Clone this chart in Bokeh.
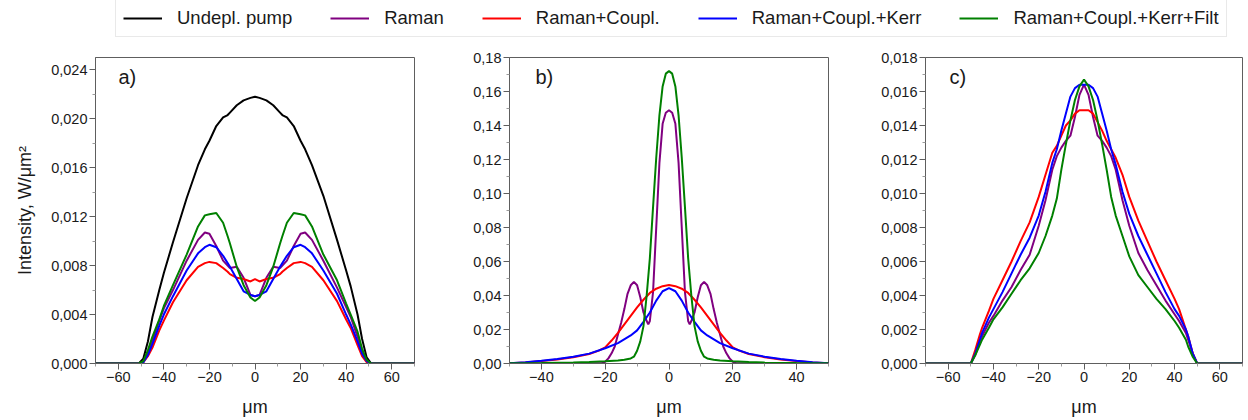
from bokeh.plotting import figure
from bokeh.layouts import column, row
from bokeh.models import Range1d, FixedTicker, CustomJSTickFormatter, Legend, LegendItem, Label
from bokeh.embed import file_html
from bokeh.resources import INLINE

FONT = "Liberation Sans"
SERIES = ["Undepl. pump", "Raman", "Raman+Coupl.", "Raman+Coupl.+Kerr", "Raman+Coupl.+Kerr+Filt"]
COLORS = ["#000000", "#800080", "#ff0000", "#0000ff", "#008000"]

# ---------------- panel a) ----------------
xa = [-70, -51, -49, -47, -45, -42, -40, -36, -30, -25, -22, -20, -17, -14, -12, -11, -8, -5, -2, 0,
      2, 5, 8, 11, 12, 14, 17, 20, 22, 25, 30, 36, 40, 42, 45, 47, 49, 51, 70]
a_pump = [0, 0, 0.0004, 0.0018, 0.0038, 0.0060, 0.0074, 0.0099, 0.0135, 0.0162, 0.0175, 0.0182, 0.0194,
          0.0201, 0.0203, 0.0205, 0.0211, 0.0215, 0.0217, 0.0218, 0.0217, 0.0215, 0.0211, 0.0205, 0.0203,
          0.0201, 0.0194, 0.0182, 0.0175, 0.0162, 0.0137, 0.0101, 0.0076, 0.0063, 0.0040, 0.0020, 0.0005, 0, 0]
a_raman = [0, 0, 0.0001, 0.0009, 0.0019, 0.0035, 0.0045, 0.0060, 0.0084, 0.0101, 0.0107, 0.0106, 0.0096,
           0.0084, 0.0080, 0.0078, 0.0079, 0.0070, 0.0056, 0.0055, 0.0056, 0.0070, 0.0079, 0.0078, 0.0080,
           0.0084, 0.0096, 0.0106, 0.0107, 0.0101, 0.0084, 0.0062, 0.0046, 0.0038, 0.0022, 0.0010, 0.0002, 0, 0]
a_coupl = [0, 0, 0.0001, 0.0006, 0.0013, 0.0027, 0.0035, 0.0050, 0.0068, 0.0079, 0.0082, 0.0083, 0.0082,
           0.0078, 0.0075, 0.0073, 0.0070, 0.0069, 0.0067, 0.0069, 0.0067, 0.0069, 0.0070, 0.0073, 0.0075,
           0.0078, 0.0082, 0.0083, 0.0082, 0.0079, 0.0068, 0.0051, 0.0036, 0.0029, 0.0015, 0.0006, 0.0001, 0, 0]
a_kerr = [0, 0, 0.0001, 0.0007, 0.0016, 0.0031, 0.0040, 0.0055, 0.0076, 0.0090, 0.0095, 0.0097, 0.0095,
          0.0088, 0.0082, 0.0079, 0.0069, 0.0059, 0.0056, 0.0055, 0.0056, 0.0059, 0.0069, 0.0079, 0.0082,
          0.0088, 0.0095, 0.0097, 0.0095, 0.0090, 0.0076, 0.0057, 0.0040, 0.0032, 0.0018, 0.0008, 0.0002, 0, 0]
a_filt = [0, 0, 0.0002, 0.0011, 0.0022, 0.0036, 0.0047, 0.0064, 0.0089, 0.0112, 0.0121, 0.0122, 0.0123,
          0.0115, 0.0104, 0.0098, 0.0079, 0.0064, 0.0054, 0.0051, 0.0054, 0.0064, 0.0079, 0.0098, 0.0104,
          0.0115, 0.0123, 0.0122, 0.0121, 0.0112, 0.0089, 0.0068, 0.0049, 0.0040, 0.0026, 0.0012, 0.0003, 0, 0]

# ---------------- panel b) ----------------
xb_kerr = [-50, -45, -40, -35, -30, -25, -20, -16, -12, -10, -8, -6, -4, -2, 0,
           2, 4, 6, 8, 10, 12, 16, 20, 25, 30, 35, 40, 45, 50]
b_kerr = [0.0002, 0.0007, 0.0016, 0.0026, 0.0040, 0.0058, 0.0090, 0.0120, 0.0165, 0.0195, 0.0245, 0.0300,
          0.0370, 0.0425, 0.0444, 0.0425, 0.0370, 0.0300, 0.0245, 0.0195, 0.0165, 0.0120, 0.0090, 0.0058,
          0.0040, 0.0026, 0.0016, 0.0007, 0.0002]
xb_coupl = [-50, -45, -40, -35, -30, -25, -22, -20, -18, -16, -12, -10, -8, -6, -4, -2, 0,
            2, 4, 6, 8, 10, 12, 16, 18, 20, 22, 25, 30, 35, 40, 45, 50]
b_coupl = [0.0002, 0.0006, 0.0014, 0.0024, 0.0037, 0.0056, 0.0076, 0.0095, 0.0135, 0.0180, 0.0280, 0.0330,
           0.0375, 0.0415, 0.0440, 0.0455, 0.0462, 0.0455, 0.0440, 0.0415, 0.0375, 0.0330, 0.0280, 0.0180,
           0.0135, 0.0095, 0.0076, 0.0056, 0.0037, 0.0024, 0.0014, 0.0006, 0.0002]
xb_raman = [-50, -25, -21, -20, -19, -18, -17, -16, -15, -14, -13, -12, -11, -10, -9, -8, -7, -6.5, -6, -5,
            -4, -3, -2, -1, 0, 1, 2, 3, 4, 5, 6, 6.5, 7, 8, 9, 10, 11, 12, 13, 14, 15, 16, 17, 18, 19,
            20, 21, 25, 50]
b_raman = [0, 0, 0.0003, 0.0010, 0.0030, 0.0060, 0.0100, 0.0170, 0.0240, 0.0320, 0.0410, 0.0460, 0.0480,
           0.0460, 0.0390, 0.0300, 0.0250, 0.0230, 0.0250, 0.0420, 0.0800, 0.1180, 0.1410, 0.1475, 0.1490,
           0.1475, 0.1410, 0.1180, 0.0800, 0.0420, 0.0250, 0.0230, 0.0250, 0.0300, 0.0390, 0.0460, 0.0480,
           0.0460, 0.0410, 0.0320, 0.0240, 0.0170, 0.0100, 0.0060, 0.0030, 0.0010, 0.0003, 0, 0]
xb_filt = [-50, -40, -30, -25, -20, -16, -14, -12, -11, -10, -9, -8, -7, -6, -5, -4, -3, -2, -1, 0,
           1, 2, 3, 4, 5, 6, 7, 8, 9, 10, 11, 12, 14, 16, 20, 25, 30, 40, 50]
b_filt = [0.0001, 0.0003, 0.0006, 0.0009, 0.0013, 0.0018, 0.0022, 0.0030, 0.0040, 0.0075, 0.0130, 0.0220,
          0.0400, 0.0620, 0.0920, 0.1210, 0.1460, 0.1630, 0.1705, 0.1720, 0.1705, 0.1630, 0.1460, 0.1210,
          0.0920, 0.0620, 0.0400, 0.0220, 0.0130, 0.0075, 0.0040, 0.0030, 0.0022, 0.0018, 0.0013, 0.0009,
          0.0006, 0.0003, 0.0001]

# ---------------- panel c) ----------------
xc = [-70, -50, -48, -46, -45, -42, -40, -36, -32, -28, -24, -20, -17, -14, -12, -10, -8, -6, -4, -2, 0,
      2, 4, 6, 8, 10, 12, 14, 17, 20, 24, 28, 32, 36, 40, 42, 45, 46, 48, 50, 70]
c_raman = [0, 0, 0.0005, 0.0013, 0.0016, 0.0024, 0.0028, 0.0037, 0.0045, 0.0055, 0.0064, 0.0081, 0.0096,
           0.0114, 0.0122, 0.0127, 0.0131, 0.0134, 0.0145, 0.0158, 0.0164, 0.0158, 0.0145, 0.0134, 0.0131,
           0.0127, 0.0122, 0.0114, 0.0096, 0.0081, 0.0065, 0.0055, 0.0046, 0.0037, 0.0029, 0.0025, 0.0018,
           0.0014, 0.0006, 0, 0]
c_coupl = [0, 0, 0.0008, 0.0017, 0.0021, 0.0031, 0.0038, 0.0049, 0.0060, 0.0072, 0.0083, 0.0098, 0.0111,
           0.0124, 0.0128, 0.0134, 0.0140, 0.0143, 0.0147, 0.0149, 0.0149, 0.0149, 0.0147, 0.0142, 0.0137,
           0.0131, 0.0126, 0.0121, 0.0111, 0.0098, 0.0084, 0.0072, 0.0060, 0.0049, 0.0038, 0.0032, 0.0020,
           0.0016, 0.0006, 0, 0]
c_kerr = [0, 0, 0.0006, 0.0014, 0.0018, 0.0027, 0.0032, 0.0042, 0.0053, 0.0064, 0.0074, 0.0087, 0.0101,
          0.0118, 0.0126, 0.0137, 0.0147, 0.0157, 0.0162, 0.0164, 0.0164, 0.0164, 0.0162, 0.0157, 0.0147,
          0.0137, 0.0126, 0.0117, 0.0101, 0.0088, 0.0075, 0.0064, 0.0053, 0.0042, 0.0032, 0.0028, 0.0020,
          0.0016, 0.0006, 0, 0]
c_filt = [0, 0, 0.0005, 0.0011, 0.0014, 0.0021, 0.0026, 0.0033, 0.0041, 0.0049, 0.0056, 0.0065, 0.0075,
          0.0087, 0.0097, 0.0114, 0.0129, 0.0143, 0.0155, 0.0163, 0.0167, 0.0163, 0.0155, 0.0143, 0.0129,
          0.0114, 0.0098, 0.0087, 0.0075, 0.0063, 0.0052, 0.0045, 0.0038, 0.0032, 0.0025, 0.0021, 0.0014,
          0.0010, 0.0004, 0, 0]

# tick definitions
a_yticks = [0, 0.004, 0.008, 0.012, 0.016, 0.020, 0.024]
b_yticks = [0, 0.02, 0.04, 0.06, 0.08, 0.10, 0.12, 0.14, 0.16, 0.18]
c_yticks = [0, 0.002, 0.004, 0.006, 0.008, 0.010, 0.012, 0.014, 0.016, 0.018]
ac_xticks = [-60, -40, -20, 0, 20, 40, 60]
b_xticks = [-40, -20, 0, 20, 40]

AX_COLOR = "#5e5e5e"
TXT = "#1a1a1a"

XFMT = CustomJSTickFormatter(code="const v = Math.round(tick); return v < 0 ? '\u2212' + (-v) : String(v);")


def yfmt(digits):
    return CustomJSTickFormatter(code="return tick.toFixed(%d).replace('.', ',');" % digits)


def make_panel(width, bl, br, xr, yr, xt, xminor, yt, yminor, digits, letter, letter_dx, ylabel=None):
    p = figure(width=width, height=376, output_backend="svg", toolbar_location=None,
               x_range=Range1d(*xr), y_range=Range1d(*yr),
               min_border_left=bl, min_border_right=br, min_border_top=13, min_border_bottom=57)
    p.grid.visible = False
    p.outline_line_color = AX_COLOR
    p.outline_line_width = 1
    p.background_fill_color = "white"
    p.border_fill_color = "white"
    p.xaxis.ticker = FixedTicker(ticks=xt, minor_ticks=xminor)
    p.yaxis.ticker = FixedTicker(ticks=yt, minor_ticks=yminor)
    p.xaxis.formatter = XFMT
    p.yaxis.formatter = yfmt(digits)
    for ax in (p.xaxis, p.yaxis):
        ax.axis_line_color = AX_COLOR
        ax.major_tick_line_color = AX_COLOR
        ax.minor_tick_line_color = "#9a9a9a"
        ax.major_tick_in = 0
        ax.major_tick_out = 6
        ax.minor_tick_in = 0
        ax.minor_tick_out = 3
        ax.major_label_text_font = FONT
        ax.major_label_text_font_size = "14.5px"
        ax.major_label_text_color = TXT
        ax.major_label_standoff = 2
        ax.axis_label_text_font = FONT
        ax.axis_label_text_font_size = "18px"
        ax.axis_label_text_font_style = "normal"
        ax.axis_label_text_color = TXT
    p.xaxis.axis_label = "μm"
    p.xaxis.axis_label_standoff = 12
    if ylabel:
        p.yaxis.axis_label = ylabel
        p.yaxis.axis_label_standoff = 13
    p.add_layout(Label(x=letter_dx, y=287, x_units="screen", y_units="screen", text=letter,
                       text_font=FONT, text_font_size="20px", text_color=TXT, text_baseline="middle"))
    return p


pa = make_panel(460, 95, 46, (-70, 70), (0, 0.025), ac_xticks, [-70, -50, -30, -10, 10, 30, 50, 70],
                a_yticks, [0.002, 0.006, 0.010, 0.014, 0.018, 0.022], 3, "a)", 23,
                ylabel="Intensity, W/μm²")
pb = make_panel(418, 49, 50, (-50, 50), (0, 0.18), b_xticks, [-50, -30, -10, 10, 30, 50],
                b_yticks, [0.01, 0.03, 0.05, 0.07, 0.09, 0.11, 0.13, 0.15, 0.17], 2, "b)", 26)
pc = make_panel(370, 45, 6, (-70, 70), (0, 0.018), ac_xticks, [-70, -50, -30, -10, 10, 30, 50, 70],
                c_yticks, [0.001, 0.003, 0.005, 0.007, 0.009, 0.011, 0.013, 0.015, 0.017], 3, "c)", 24)

LW = 2
for ys, c in zip([a_pump, a_raman, a_coupl, a_kerr, a_filt], COLORS):
    pa.line(xa, ys, line_color=c, line_width=LW)

pb.line(xb_raman, b_raman, line_color=COLORS[1], line_width=LW)
pb.line(xb_coupl, b_coupl, line_color=COLORS[2], line_width=LW)
pb.line(xb_kerr, b_kerr, line_color=COLORS[3], line_width=LW)
pb.line(xb_filt, b_filt, line_color=COLORS[4], line_width=LW)

for ys, c in zip([c_raman, c_coupl, c_kerr, c_filt], COLORS[1:]):
    pc.line(xc, ys, line_color=c, line_width=LW)

# legend strip (proxy lines lie outside the visible range; only their legend glyphs show)
pl = figure(width=1248, height=44, output_backend="svg", toolbar_location=None,
            x_range=Range1d(0, 1), y_range=Range1d(0, 1),
            min_border=0, min_border_left=0, min_border_right=0, min_border_top=0, min_border_bottom=0)
pl.axis.visible = False
pl.grid.visible = False
pl.outline_line_color = None
items = []
for name, c in zip(SERIES, COLORS):
    r = pl.line([5, 6], [5, 6], line_color=c, line_width=2)
    items.append(LegendItem(label=name, renderers=[r]))
leg = Legend(items=items, orientation="horizontal", location=(115, 7),
             label_text_font=FONT, label_text_font_size="18.5px", label_text_color=TXT,
             glyph_width=39, glyph_height=20, label_height=20, label_standoff=15, spacing=38,
             padding=7, margin=0, border_line_color="#d4d4d4", border_line_width=1,
             background_fill_color="white")
pl.add_layout(leg, "center")

layout = column(pl, row(pa, pb, pc))
open("out.html", "w").write(file_html(layout, INLINE))
